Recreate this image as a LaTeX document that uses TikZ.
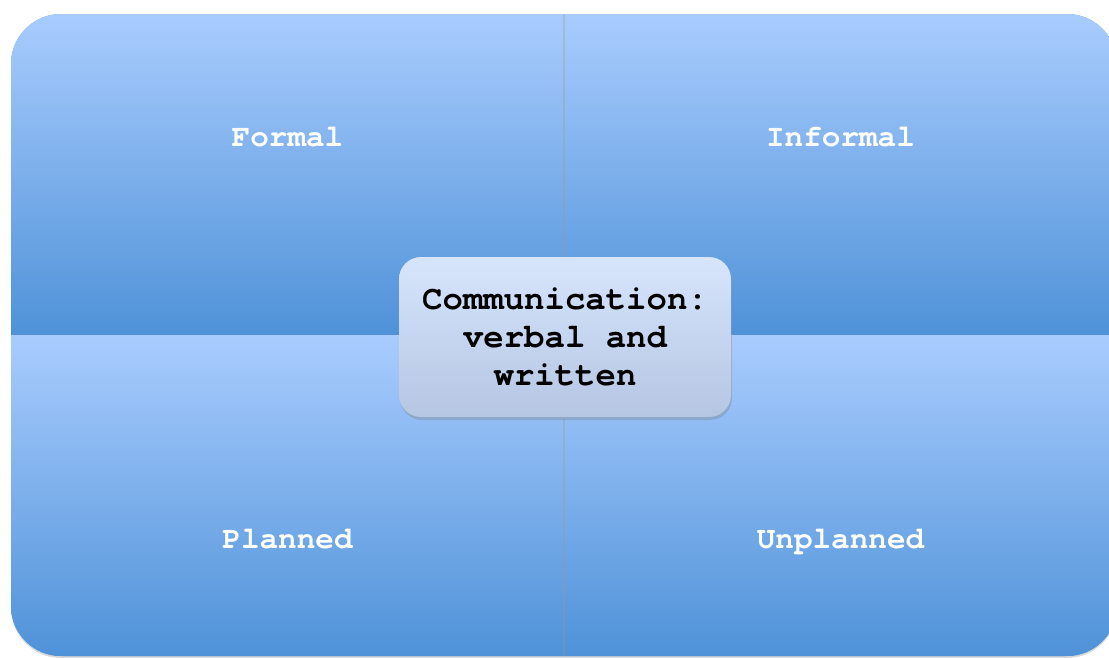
\documentclass[tikz,border=0pt]{standalone}
\usepackage{fontspec}
\setmonofont{TeX Gyre Cursor}
\usetikzlibrary{positioning, shadows}

\definecolor{quadtop}{HTML}{A9CCFE}
\definecolor{quadbot}{HTML}{4F92D8}
\definecolor{hubtop}{HTML}{D7E5FC}
\definecolor{hubbot}{HTML}{B5C6E3}

\begin{document}
\begin{tikzpicture}[
      x=1pt, y=-1pt,
      quad/.style={
          rectangle,
          inner sep=0pt,
          outer sep=0pt,
          minimum width=553pt,
          minimum height=321pt,
          top color=quadtop,
          bottom color=quadbot
        },
      qlabel/.style={
          text=white,
          font=\ttfamily\bfseries\fontsize{31}{36}\selectfont,
          anchor=base
        },
      hub/.style={
          rectangle,
          rounded corners=22pt,
          align=center,
          minimum width=332pt,
          minimum height=160pt,
          top color=hubtop,
          bottom color=hubbot,
          drop shadow={shadow xshift=1pt, shadow yshift=-3pt, opacity=0.35},
          font=\ttfamily\bfseries\fontsize{34}{38}\selectfont
        },
      divider/.style={
          black!40,
          opacity=0.3,
          line width=1.5pt
        }
    ]
    \useasboundingbox (0,0) rectangle (1109,657);

    % Panel
    \path[fill=quadbot, rounded corners=50pt,
      drop shadow={shadow xshift=0pt, shadow yshift=-2pt, opacity=0.3}]
      (11,14) rectangle (1117,656);

    \begin{scope}
      \clip[rounded corners=50pt] (11,14) rectangle (1117,656);
      % Quadrants
      \node[quad, anchor=north west,
        label={[qlabel, yshift=-132pt]north:Formal}] (formal) at (11,14) {};
      \node[quad, right=0pt of formal,
        label={[qlabel, yshift=-132pt]north:Informal}] (informal) {};
      \node[quad, below=0pt of formal,
        label={[qlabel, yshift=108pt]south:Planned}] (planned) {};
      \node[quad, right=0pt of planned,
        label={[qlabel, yshift=108pt]south:Unplanned}] (unplanned) {};

      % Edges between quadrants
      \draw[divider] (formal.north east) -- (planned.south east);
    \end{scope}

    % Centre
    \node[hub, yshift=-2pt, xshift=1pt] (comm) at (formal.south east) {Communication:\\verbal and\\written};

  \end{tikzpicture}
\end{document}
